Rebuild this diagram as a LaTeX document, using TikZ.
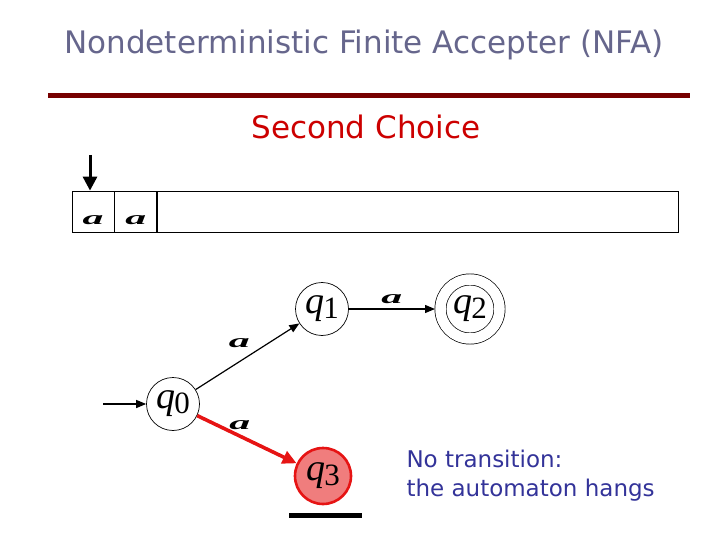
\documentclass[tikz,border=0pt]{standalone}
\usepackage{fontspec}
\newfontfamily\notefont{DejaVu Sans}
\newfontfamily\serifont{Liberation Serif}
\usetikzlibrary{arrows, arrows.meta}
\definecolor{titlegray}{RGB}{102,102,140}
\definecolor{rulered}{RGB}{119,0,0}
\definecolor{choicered}{RGB}{204,0,0}
\definecolor{noteblue}{RGB}{51,51,153}
\definecolor{hangfill}{RGB}{240,125,125}
\definecolor{hangred}{RGB}{230,20,20}
\newcommand{\qname}[1]{{\serifont\fontsize{38}{38}\selectfont\itshape q\kern-1pt\raisebox{-5pt}{\fontsize{31}{31}\selectfont\upshape #1}}}
\newcommand{\sym}{{\serifont\fontsize{19}{19}\selectfont\scalebox{2.2}[1]{\bfseries\itshape a}}}
\tikzstyle{state} = [circle, minimum size=53pt, inner sep=0pt, draw=black, line width=0.7pt]
\tikzstyle{accept} = [state, minimum size=59pt, double, double distance=10.5pt, outer sep=5.5pt]
\tikzstyle{hang} = [state, minimum size=56pt, draw=hangred, line width=2.6pt, fill=hangfill]
\tikzstyle{cell} = [rectangle, minimum width=42pt, minimum height=41pt, inner sep=0pt, draw=black, line width=0.8pt]
\tikzstyle{arrow} = [line width=1.2pt, -{Triangle[width=8pt,length=10pt]}]
\tikzstyle{redarrow} = [line width=3.6pt, draw=hangred, -{Triangle[width=13pt,length=14pt]}]
\tikzstyle{lbl} = [inner sep=0pt]

\begin{document}
\begin{tikzpicture}[x=1pt,y=-1pt]
    \useasboundingbox (0,0) rectangle (720,540);

    % Heading
    \node[text=titlegray, font=\notefont\fontsize{31}{31}\selectfont] (title) at (364,45) {Nondeterministic Finite Accepter (NFA)};
    \coordinate (ruleL) at (48,96);
    \coordinate (ruleR) at (690,96);
    \draw[rulered, line width=5pt] (ruleL) -- (ruleR);
    \node[text=choicered, font=\notefont\fontsize{31}{31}\selectfont] (choice) at (366,127) {Second Choice};

    % Tape
    \node[cell] (c1) at (93,211.5) {\smash{\raisebox{-13pt}{\sym}}};
    \node[cell, anchor=west] (c2) at (c1.east) {\smash{\raisebox{-13pt}{\sym}}};
    \node[cell, anchor=west, minimum width=521pt] (rest) at (c2.east) {};
    \coordinate (head) at (90,155);
    \draw[line width=3pt, -{Triangle[width=14pt,length=14pt]}] (head) -- (head |- c1.north);

    % Nodes
    \node[state] (q0) at (173,404) {\qname{0}};
    \node[state] (q1) at (322,309) {\qname{1}};
    \node[accept] (q2) at (470,309) {\qname{2}};
    \node[hang] (q3) at (323,476) {\qname{3}};
    \coordinate (start) at (103,404);
    \coordinate (barL) at (289,515);
    \coordinate (barR) at (362,515);

    \node[text=noteblue, font=\notefont\fontsize{23}{29}\selectfont, align=left, anchor=north west] (note) at (403,446) {No transition:\\the automaton hangs};

    % Arrows
    \path
    (start) edge[arrow] (q0)
    (q0) edge[arrow] node[lbl, pos=0.45, above=12pt, xshift=-3pt] {\sym} (q1)
    (q1) edge[arrow] node[lbl, above=5pt] {\sym} (q2)
    (q0) edge[redarrow] node[lbl, pos=0.43, above=4.5pt] {\sym} (q3);
    \draw[line width=5pt] (barL) -- (barR);

\end{tikzpicture}
\end{document}
